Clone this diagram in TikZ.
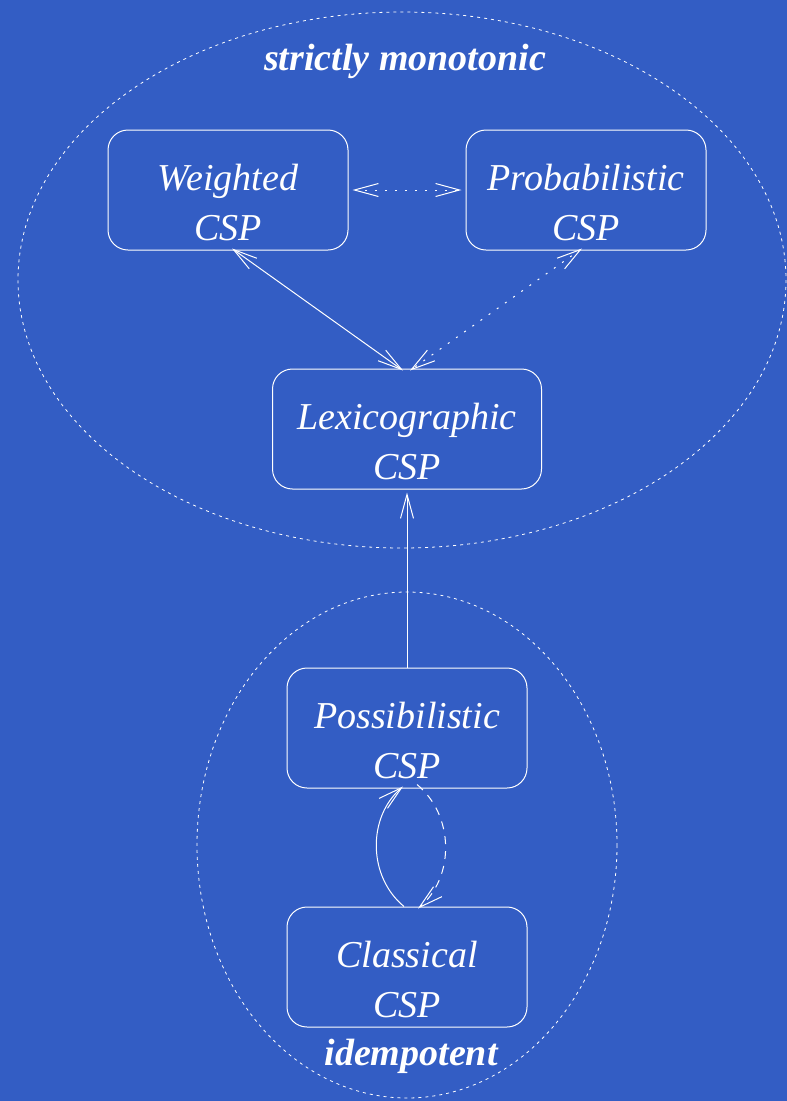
\documentclass[tikz,border=0pt]{standalone}
\usepackage{fontspec}
\setmainfont{Liberation Serif}
\usetikzlibrary{arrows.meta}
\definecolor{bgblue}{RGB}{51,93,196}
\newcommand{\csp}[1]{\rule{0pt}{52pt}#1\\CSP}

\begin{document}
\begin{tikzpicture}[x=1pt,y=-1pt,line width=1pt,white,
	box/.style={draw,rounded corners=20pt,minimum width=240pt,minimum height=120pt,align=center,inner sep=0pt,
		font=\fontsize{38}{50}\selectfont\itshape},
	tag/.style={font=\fontsize{38}{46}\selectfont\bfseries\itshape},
	barb/.tip={Straight Barb[length=24pt,width=13pt]},
	dots/.style={dash pattern=on 2pt off 8pt},
	rim/.style={dash pattern=on 3pt off 4pt,line width=0.8pt}]
		\fill[bgblue] (0,0) rectangle (787,1101);
		\useasboundingbox (0,0) rectangle (787,1101);
		% the two families
		\draw[rim] (402,280) ellipse (384 and 268);
		\draw[rim] (407,845) ellipse (210 and 253);
		\node[tag] (mono) at (405,61) {strictly monotonic};
		\node[tag] (idem) at (411,1056) {idempotent};
			\node[box] (w) at (228,190) {\csp{Weighted}};
			\node[box] (p) at (586,190) {\csp{Probabilistic}};
			\node[box,minimum width=269pt] (lex) at (407,429) {\csp{Lexicographic}};
			\node[box] (pos) at (407,728) {\csp{Possibilistic}};
			\node[box] (cl) at (407,967) {\csp{Classical}};
				\draw[dots,barb-barb] ([xshift=4pt]w.east) -- ([xshift=-4pt]p.west);
				\draw[barb-barb] ([xshift=4pt,yshift=2pt]w.south) -- ([xshift=-4pt,yshift=-2pt]lex.north);
				\draw[dots,barb-barb] ([xshift=-4pt,yshift=2pt]p.south) -- ([xshift=3pt,yshift=-2pt]lex.north);
				\draw[-barb] (pos.north) -- ([yshift=-3pt]lex.south);
				\draw[-barb] ([xshift=-3pt]cl.north) to[bend left=50] ([xshift=-4pt,yshift=2pt]pos.south);
				\draw[dash pattern=on 8pt off 7pt,-barb] ([xshift=10pt,yshift=4pt]pos.south) to[bend left=50] ([xshift=11pt,yshift=-2pt]cl.north);
	\end{tikzpicture}
\end{document}
